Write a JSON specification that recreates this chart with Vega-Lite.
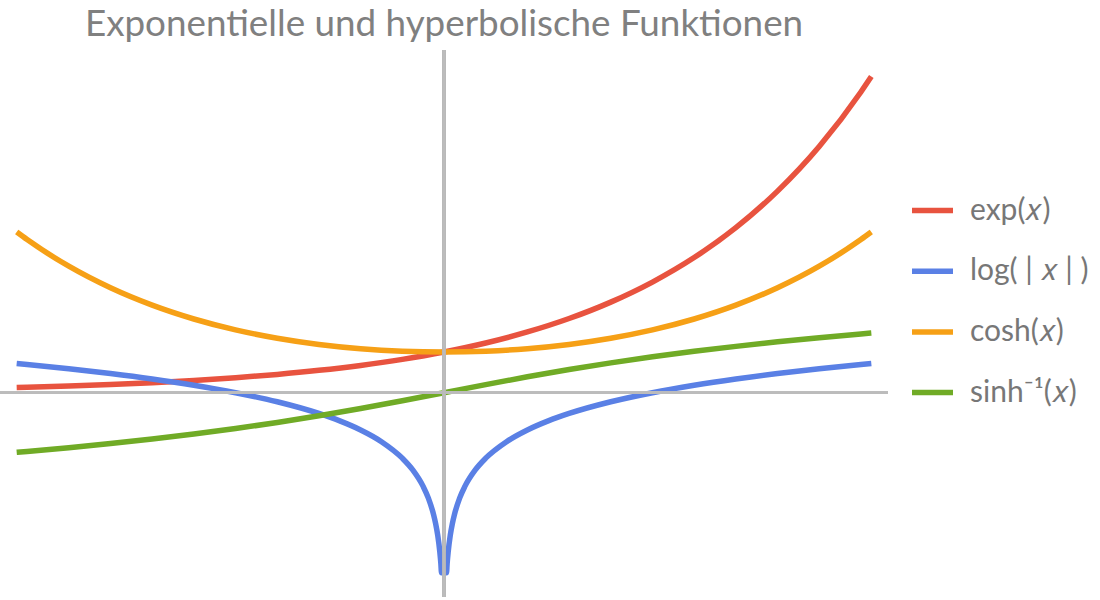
{
  "$schema": "https://vega.github.io/schema/vega-lite/v6.json",
  "autosize": "none",
  "width": 888,
  "height": 547,
  "padding": {"left": 0, "top": 50, "right": 212, "bottom": 3},
  "background": "white",
  "title": {
    "text": "Exponentielle und hyperbolische Funktionen",
    "font": "Lato",
    "fontSize": 36.8,
    "fontWeight": "normal",
    "color": "#808080",
    "anchor": "middle",
    "offset": 5
  },
  "config": {"view": {"stroke": null}},
  "data": {
    "values": [
      {"f": "exp(𝑥)", "x": -2.05, "y": 0.12873},
      {"f": "exp(𝑥)", "x": -2.0, "y": 0.13534},
      {"f": "exp(𝑥)", "x": -1.8, "y": 0.1653},
      {"f": "exp(𝑥)", "x": -1.6, "y": 0.2019},
      {"f": "exp(𝑥)", "x": -1.4, "y": 0.2466},
      {"f": "exp(𝑥)", "x": -1.2, "y": 0.30119},
      {"f": "exp(𝑥)", "x": -1.0, "y": 0.36788},
      {"f": "exp(𝑥)", "x": -0.8, "y": 0.44933},
      {"f": "exp(𝑥)", "x": -0.6, "y": 0.54881},
      {"f": "exp(𝑥)", "x": -0.4, "y": 0.67032},
      {"f": "exp(𝑥)", "x": -0.2, "y": 0.81873},
      {"f": "exp(𝑥)", "x": 0.0, "y": 1.0},
      {"f": "exp(𝑥)", "x": 0.2, "y": 1.2214},
      {"f": "exp(𝑥)", "x": 0.4, "y": 1.49182},
      {"f": "exp(𝑥)", "x": 0.6, "y": 1.82212},
      {"f": "exp(𝑥)", "x": 0.8, "y": 2.22554},
      {"f": "exp(𝑥)", "x": 1.0, "y": 2.71828},
      {"f": "exp(𝑥)", "x": 1.2, "y": 3.32012},
      {"f": "exp(𝑥)", "x": 1.4, "y": 4.0552},
      {"f": "exp(𝑥)", "x": 1.6, "y": 4.95303},
      {"f": "exp(𝑥)", "x": 1.8, "y": 6.04965},
      {"f": "exp(𝑥)", "x": 2.0, "y": 7.38906},
      {"f": "exp(𝑥)", "x": 2.05, "y": 7.7679},

      {"f": "log( | 𝑥 | )", "x": -2.05, "y": 0.71784},
      {"f": "log( | 𝑥 | )", "x": -2.0, "y": 0.69315},
      {"f": "log( | 𝑥 | )", "x": -1.8, "y": 0.58779},
      {"f": "log( | 𝑥 | )", "x": -1.6, "y": 0.47},
      {"f": "log( | 𝑥 | )", "x": -1.4, "y": 0.33647},
      {"f": "log( | 𝑥 | )", "x": -1.2, "y": 0.18232},
      {"f": "log( | 𝑥 | )", "x": -1.0, "y": 0.0},
      {"f": "log( | 𝑥 | )", "x": -0.8, "y": -0.22314},
      {"f": "log( | 𝑥 | )", "x": -0.6, "y": -0.51083},
      {"f": "log( | 𝑥 | )", "x": -0.5, "y": -0.69315},
      {"f": "log( | 𝑥 | )", "x": -0.4, "y": -0.91629},
      {"f": "log( | 𝑥 | )", "x": -0.3, "y": -1.20397},
      {"f": "log( | 𝑥 | )", "x": -0.2, "y": -1.60944},
      {"f": "log( | 𝑥 | )", "x": -0.15, "y": -1.89712},
      {"f": "log( | 𝑥 | )", "x": -0.1, "y": -2.30259},
      {"f": "log( | 𝑥 | )", "x": -0.075, "y": -2.59027},
      {"f": "log( | 𝑥 | )", "x": -0.05, "y": -2.99573},
      {"f": "log( | 𝑥 | )", "x": -0.04, "y": -3.21888},
      {"f": "log( | 𝑥 | )", "x": -0.03, "y": -3.50656},
      {"f": "log( | 𝑥 | )", "x": -0.02, "y": -3.91202},
      {"f": "log( | 𝑥 | )", "x": -0.015, "y": -4.19971},
      {"f": "log( | 𝑥 | )", "x": -0.012, "y": -4.42285},
      {"f": "log( | 𝑥 | )", "x": 0.012, "y": -4.42285},
      {"f": "log( | 𝑥 | )", "x": 0.015, "y": -4.19971},
      {"f": "log( | 𝑥 | )", "x": 0.02, "y": -3.91202},
      {"f": "log( | 𝑥 | )", "x": 0.03, "y": -3.50656},
      {"f": "log( | 𝑥 | )", "x": 0.04, "y": -3.21888},
      {"f": "log( | 𝑥 | )", "x": 0.05, "y": -2.99573},
      {"f": "log( | 𝑥 | )", "x": 0.075, "y": -2.59027},
      {"f": "log( | 𝑥 | )", "x": 0.1, "y": -2.30259},
      {"f": "log( | 𝑥 | )", "x": 0.15, "y": -1.89712},
      {"f": "log( | 𝑥 | )", "x": 0.2, "y": -1.60944},
      {"f": "log( | 𝑥 | )", "x": 0.3, "y": -1.20397},
      {"f": "log( | 𝑥 | )", "x": 0.4, "y": -0.91629},
      {"f": "log( | 𝑥 | )", "x": 0.5, "y": -0.69315},
      {"f": "log( | 𝑥 | )", "x": 0.6, "y": -0.51083},
      {"f": "log( | 𝑥 | )", "x": 0.8, "y": -0.22314},
      {"f": "log( | 𝑥 | )", "x": 1.0, "y": 0.0},
      {"f": "log( | 𝑥 | )", "x": 1.2, "y": 0.18232},
      {"f": "log( | 𝑥 | )", "x": 1.4, "y": 0.33647},
      {"f": "log( | 𝑥 | )", "x": 1.6, "y": 0.47},
      {"f": "log( | 𝑥 | )", "x": 1.8, "y": 0.58779},
      {"f": "log( | 𝑥 | )", "x": 2.0, "y": 0.69315},
      {"f": "log( | 𝑥 | )", "x": 2.05, "y": 0.71784},

      {"f": "cosh(𝑥)", "x": -2.05, "y": 3.94832},
      {"f": "cosh(𝑥)", "x": -2.0, "y": 3.7622},
      {"f": "cosh(𝑥)", "x": -1.8, "y": 3.10747},
      {"f": "cosh(𝑥)", "x": -1.6, "y": 2.57746},
      {"f": "cosh(𝑥)", "x": -1.4, "y": 2.1509},
      {"f": "cosh(𝑥)", "x": -1.2, "y": 1.81066},
      {"f": "cosh(𝑥)", "x": -1.0, "y": 1.54308},
      {"f": "cosh(𝑥)", "x": -0.8, "y": 1.33743},
      {"f": "cosh(𝑥)", "x": -0.6, "y": 1.18547},
      {"f": "cosh(𝑥)", "x": -0.4, "y": 1.08107},
      {"f": "cosh(𝑥)", "x": -0.2, "y": 1.02007},
      {"f": "cosh(𝑥)", "x": 0.0, "y": 1.0},
      {"f": "cosh(𝑥)", "x": 0.2, "y": 1.02007},
      {"f": "cosh(𝑥)", "x": 0.4, "y": 1.08107},
      {"f": "cosh(𝑥)", "x": 0.6, "y": 1.18547},
      {"f": "cosh(𝑥)", "x": 0.8, "y": 1.33743},
      {"f": "cosh(𝑥)", "x": 1.0, "y": 1.54308},
      {"f": "cosh(𝑥)", "x": 1.2, "y": 1.81066},
      {"f": "cosh(𝑥)", "x": 1.4, "y": 2.1509},
      {"f": "cosh(𝑥)", "x": 1.6, "y": 2.57746},
      {"f": "cosh(𝑥)", "x": 1.8, "y": 3.10747},
      {"f": "cosh(𝑥)", "x": 2.0, "y": 3.7622},
      {"f": "cosh(𝑥)", "x": 2.05, "y": 3.94832},

      {"f": "sinh⁻¹(𝑥)", "x": -2.05, "y": -1.46577},
      {"f": "sinh⁻¹(𝑥)", "x": -2.0, "y": -1.44364},
      {"f": "sinh⁻¹(𝑥)", "x": -1.8, "y": -1.35044},
      {"f": "sinh⁻¹(𝑥)", "x": -1.6, "y": -1.24898},
      {"f": "sinh⁻¹(𝑥)", "x": -1.4, "y": -1.13798},
      {"f": "sinh⁻¹(𝑥)", "x": -1.2, "y": -1.01597},
      {"f": "sinh⁻¹(𝑥)", "x": -1.0, "y": -0.88137},
      {"f": "sinh⁻¹(𝑥)", "x": -0.8, "y": -0.73267},
      {"f": "sinh⁻¹(𝑥)", "x": -0.6, "y": -0.56882},
      {"f": "sinh⁻¹(𝑥)", "x": -0.4, "y": -0.39004},
      {"f": "sinh⁻¹(𝑥)", "x": -0.2, "y": -0.19869},
      {"f": "sinh⁻¹(𝑥)", "x": 0.0, "y": 0.0},
      {"f": "sinh⁻¹(𝑥)", "x": 0.2, "y": 0.19869},
      {"f": "sinh⁻¹(𝑥)", "x": 0.4, "y": 0.39004},
      {"f": "sinh⁻¹(𝑥)", "x": 0.6, "y": 0.56882},
      {"f": "sinh⁻¹(𝑥)", "x": 0.8, "y": 0.73267},
      {"f": "sinh⁻¹(𝑥)", "x": 1.0, "y": 0.88137},
      {"f": "sinh⁻¹(𝑥)", "x": 1.2, "y": 1.01597},
      {"f": "sinh⁻¹(𝑥)", "x": 1.4, "y": 1.13798},
      {"f": "sinh⁻¹(𝑥)", "x": 1.6, "y": 1.24898},
      {"f": "sinh⁻¹(𝑥)", "x": 1.8, "y": 1.35044},
      {"f": "sinh⁻¹(𝑥)", "x": 2.0, "y": 1.44364},
      {"f": "sinh⁻¹(𝑥)", "x": 2.05, "y": 1.46577}
    ]
  },
  "layer": [
    {
      "mark": {"type": "line", "strokeWidth": 5.5, "interpolate": "monotone", "clip": true},
      "encoding": {
        "x": {"field": "x", "type": "quantitative", "scale": {"domain": [-2.13, 2.13], "nice": false, "zero": false}, "axis": null},
        "y": {"field": "y", "type": "quantitative", "scale": {"domain": [-5.02, 8.42], "nice": false, "zero": false}, "axis": null},
        "color": {
          "field": "f",
          "type": "nominal",
          "scale": {
            "domain": ["exp(𝑥)", "log( | 𝑥 | )", "cosh(𝑥)", "sinh⁻¹(𝑥)"],
            "range": ["#E8533F", "#5A80E5", "#F6A016", "#70AB26"]
          },
          "legend": {
            "title": null,
            "orient": "none",
            "legendX": 909,
            "legendY": 137,
            "padding": 0,
            "symbolType": "stroke",
            "symbolSize": 1681,
            "symbolStrokeWidth": 5.5,
            "labelFont": "Lato",
            "labelFontSize": 30,
            "labelColor": "#777777",
            "labelOffset": 14,
            "rowPadding": 21.7,
            "labelLimit": 300
          }
        }
      }
    },
    {
      "mark": {"type": "rule", "color": "#BBBBBB", "strokeWidth": 2.5, "opacity": 0.9},
      "encoding": {"y": {"datum": 0, "type": "quantitative"}}
    },
    {
      "mark": {"type": "rule", "color": "#BBBBBB", "strokeWidth": 2.5, "opacity": 0.9},
      "encoding": {"x": {"datum": 0, "type": "quantitative"}}
    }
  ]
}
